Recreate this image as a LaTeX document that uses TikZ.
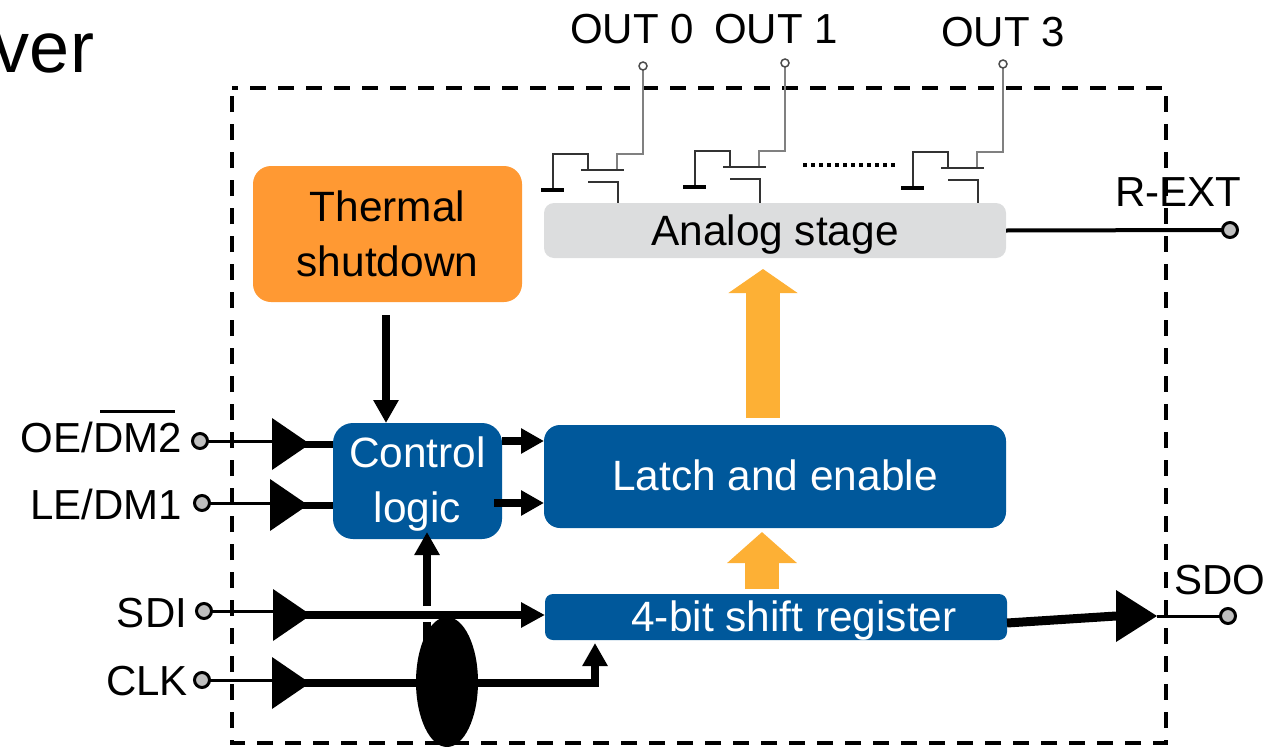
\documentclass[tikz,border=0pt]{standalone}
\usepackage{fontspec}
\setmainfont{Liberation Sans}
\usetikzlibrary{arrows.meta,shapes.geometric,calc}
\definecolor{blk}{HTML}{00589B}
\definecolor{org}{HTML}{FF9933}
\definecolor{ylw}{HTML}{FDB035}
\definecolor{gry}{HTML}{DCDDDE}
\definecolor{term}{HTML}{BFBFBF}
\newcommand{\ovlbar}[1]{\setbox0\hbox{#1}\rlap{\kern7pt\raisebox{39pt}{\rule{75pt}{3pt}}}\box0}
\tikzset{
  x=1pt,y=-1pt,
  every node/.style={font=\fontsize{42}{55}\selectfont,inner sep=0pt,outer sep=0pt},
  lab/.style={anchor=base},
  labr/.style={anchor=base east},
  boxtext/.style={font=\fontsize{42.4}{55}\selectfont},
  block/.style={boxtext,fill=blk,text=white,rounded corners=#1,align=center},
  buf/.style={isosceles triangle,isosceles triangle stretches,fill=black,minimum width=52pt,minimum height=38pt,anchor=lower side},
  pin/.style={circle,draw=black,fill=term,line width=3pt,minimum size=15pt},
  oc/.style={circle,draw=black!70,fill=white,line width=1.5pt,minimum size=8pt},
  thinw/.style={line width=3pt},
  thickw/.style={line width=7pt,shorten <=-6pt},
  arr/.style={line width=8pt,-{Triangle[length=23pt,width=24pt]}},
  bigarr/.style={line width=34pt,ylw,-{Triangle[length=#1,width=68pt]}},
  fet/.pic={
    \draw[black!50,line width=2.5pt] (0,0) -- (0,88) -- (-26,88) -- (-26,104);
    \draw[black!80,line width=2pt] (-62,104) -- (-19,104);
    \draw[black!80,line width=2pt] (-55,104) -- (-55,88) -- (-90,88) -- (-90,124);
    \draw[black,line width=4pt] (-102,124) -- (-79,124);
    \draw[black!80,line width=2pt] (-55,116) -- (-25,116) -- (-25,142);
    \node[oc] (-term) at (0,0) {};
  }
}
\begin{document}
\begin{tikzpicture}
\useasboundingbox (0,0) rectangle (1267,747);
\begin{scope}
\clip (0,0) rectangle (1267,747);
\node[anchor=base east,font=\fontsize{72}{74}\selectfont] (title) at (94,72) {ver};

\draw[black,line width=4pt,dash pattern=on 16pt off 12pt,dash phase=10pt] (232,88) -- (1166,88) -- (1166,743) -- (232,743) -- cycle;

\pic (fa) at (643,66) {fet};
\pic (fb) at (785,63) {fet};
\pic (fc) at (1003,64) {fet};
\coordinate (da) at (803,165);
\coordinate (db) at (895,165);
\draw[line width=3.5pt,dash pattern=on 4pt off 4pt] (da) -- (db);

\node[lab] (oa) at (632,43) {OUT 0};
\node[lab] (ob) at (776,43) {OUT 1};
\node[lab] (oc3) at (1003,46) {OUT 3};
\node[lab] (rext) at (1178,206) {R-EXT};
\node[lab] (sdo) at (1220,594) {SDO};
\node[labr] (loe) at (182,452) {OE/\ovlbar{DM2}};
\node[labr] (lle) at (182,519) {LE/DM1};
\node[labr] (lsdi) at (187,627) {SDI};
\node[labr] (lclk) at (188,695) {CLK};

\node[boxtext,fill=org,rounded corners=18pt,minimum width=269pt,minimum height=136pt,align=center,text height=84pt,text depth=0pt] (thermal) at (387.5,234) {Thermal\\shutdown};
\node[boxtext,fill=gry,rounded corners=10pt,minimum width=462pt,minimum height=55pt,text height=29pt,text depth=0pt] (analog) at (775,230.5) {Analog stage};
\node[block=20pt,minimum width=169pt,minimum height=116pt,text height=82pt,text depth=0pt] (ctrl) at (417.5,481) {Control\\logic};
\node[block=16pt,minimum width=462pt,minimum height=103pt,text height=27pt,text depth=0pt] (latch) at (775,476.5) {Latch and enable};
\node[block=8pt,minimum width=462pt,minimum height=46pt,text height=28pt,text depth=0pt] (shift) at (776,617) {\hspace*{36pt}4-bit shift register};

\node[pin] (toe) at (200,441) {};
\node[pin] (tle) at (202,503) {};
\node[pin] (tsdi) at (204,611) {};
\node[pin] (tclk) at (202,680) {};
\node[pin] (trext) at (1230,230) {};
\node[pin] (tsdo) at (1228,616) {};

\node[buf] (boe) at (272,444) {};
\node[buf] (ble) at (270,505) {};
\node[buf] (bsdi) at (273,615) {};
\node[buf] (bclk) at (272,683) {};
\node[buf,minimum height=41pt] (bsdo) at (1116,616) {};

\draw[thinw] (toe.east) -- (boe.lower side |- toe.east);
\draw[thinw] (tle.east) -- (ble.lower side |- tle.east);
\draw[thinw] (tsdi.east) -- (bsdi.lower side |- tsdi.east);
\draw[thinw] (tclk.east) -- (bclk.lower side |- tclk.east);
\draw[thinw] (bsdo.apex) -- (tsdo.west);
\draw[line width=4pt] (analog.east) -- (trext.west);

\draw[thickw] (boe.apex) -- (ctrl.west |- boe.apex);
\draw[thickw] (ble.apex) -- (ctrl.west |- ble.apex);

\coordinate (tb) at (386,315);
\draw[arr] (tb) -- (tb |- ctrl.north);
\draw[arr] (ctrl.east |- toe) -- (latch.west |- toe);
\coordinate (cb) at (494,503);
\draw[arr] (cb) -- (latch.west |- cb);

\draw[line width=8pt,shorten <=-6pt,-{Triangle[length=24pt,width=24pt]}] (bsdi.apex) -- (shift.west |- bsdi.apex);
\node[ellipse,fill=black,minimum width=62pt,minimum height=130pt] (ell) at (447,682) {};
\coordinate (clkup) at (595,643);
\draw[line width=8pt,shorten <=-6pt,-{Triangle[length=23pt,width=24pt]}] (bclk.apex) -| (clkup);
\coordinate (va) at (427,606);
\coordinate (vb) at (427,532);
\draw[arr] (va) -- (vb);
\coordinate (vc) at (427,622);
\draw[line width=8pt] (vc) -- (vc |- ell);

\coordinate (sa) at (1007,623);
\draw[line width=9pt] (sa) -- (bsdo.lower side);

\coordinate (ya) at (763,418);
\coordinate (yb) at (763,269);
\coordinate (yc) at (762,589);
\coordinate (yd) at (762,532);
\draw[bigarr=24pt] (ya) -- (yb);
\draw[bigarr=31pt] (yc) -- (yd);
\end{scope}
\end{tikzpicture}
\end{document}
